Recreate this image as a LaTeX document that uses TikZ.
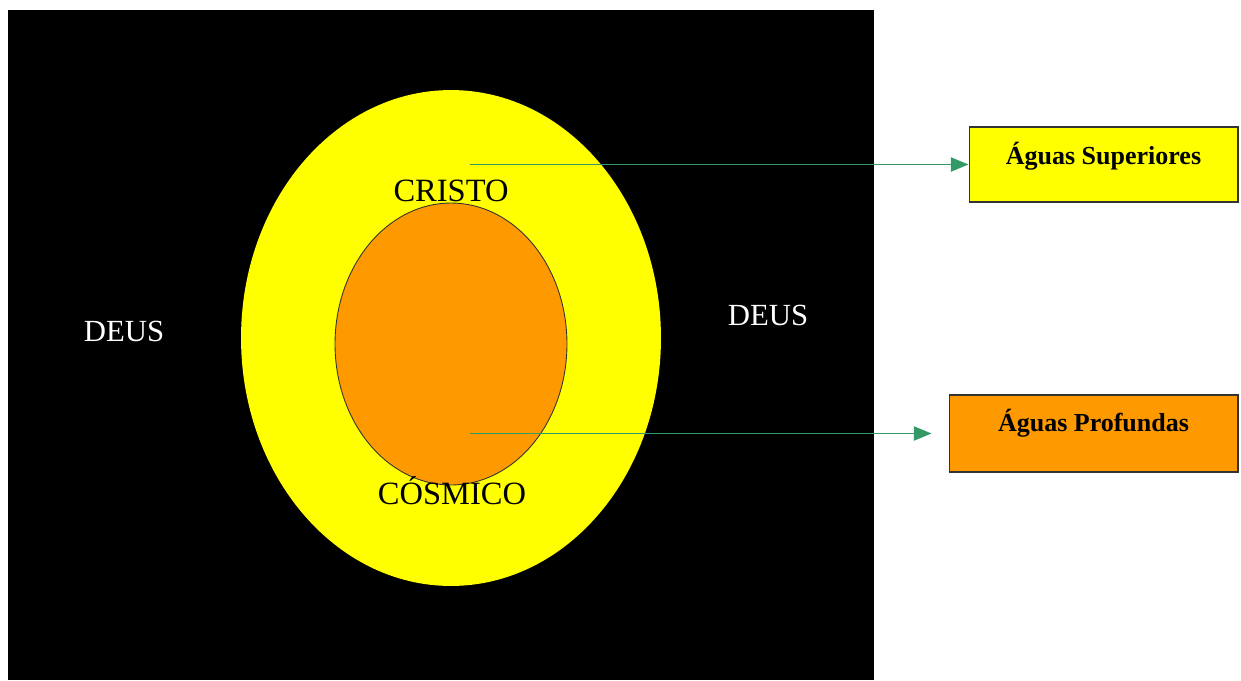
\documentclass[tikz,border=0pt]{standalone}
\usepackage{fontspec}
\setmainfont{Liberation Serif}
\usepackage{xcolor}
\usetikzlibrary{arrows.meta, positioning, shapes.geometric}
\definecolor{ouroclaro}{RGB}{255,255,0}
\definecolor{laranja}{RGB}{255,153,0}
\definecolor{verdemar}{RGB}{51,153,102}

\begin{document}
\begin{tikzpicture}[
    x=0.02cm, y=-0.02cm,
    every node/.style={align=center, inner sep=0pt},
    rotulo/.style={font=\fontsize{18.5}{21}\selectfont},
    caixa/.style={draw=black!80, line width=0.6pt, font=\bfseries\fontsize{14.8}{17}\selectfont},
    seta/.style={-{Triangle[length=10pt, width=8pt]}, line width=1pt, verdemar},
]
\useasboundingbox (0,0) rectangle (1241,680);

% --- fundo negro
\fill[black] (8,10) rectangle (874,680);

% --- elipses
\node[ellipse, fill=ouroclaro, minimum width=8.4cm, minimum height=9.92cm] (cristo) at (451,338) {};
\node[ellipse, draw=black!80, line width=0.5pt, fill=laranja, minimum width=4.64cm, minimum height=5.64cm] (cosmico) at (451,344) {};

% --- textos
\node[font=\fontsize{17.5}{20}\selectfont, text=white] (deusesq) at (124,331) {DEUS};
\node[font=\fontsize{17.5}{20}\selectfont, text=white] (deusdir) at (768,315) {DEUS};
\node[rotulo] (txtcristo)  at (451,191) {CRISTO};
\node[rotulo] (txtcosmico) at (452,491) {CÓSMICO};

% --- caixas da direita
\node[caixa, fill=ouroclaro, minimum width=5.38cm, minimum height=1.5cm, text depth=13pt] (superiores) at (1103.5,164.5) {Águas Superiores};
\node[caixa, fill=laranja, minimum width=5.78cm, minimum height=1.54cm, text depth=15pt] (profundas) at (1093.5,433.5) {Águas Profundas};

% --- setas
\coordinate (origsup)  at (470,164.5);
\coordinate (origprof) at (470,433.5);
\draw[seta] (origsup)  -- (superiores.west);
\draw[seta, shorten >=0.34cm] (origprof) -- (profundas.west);

\end{tikzpicture}
\end{document}
